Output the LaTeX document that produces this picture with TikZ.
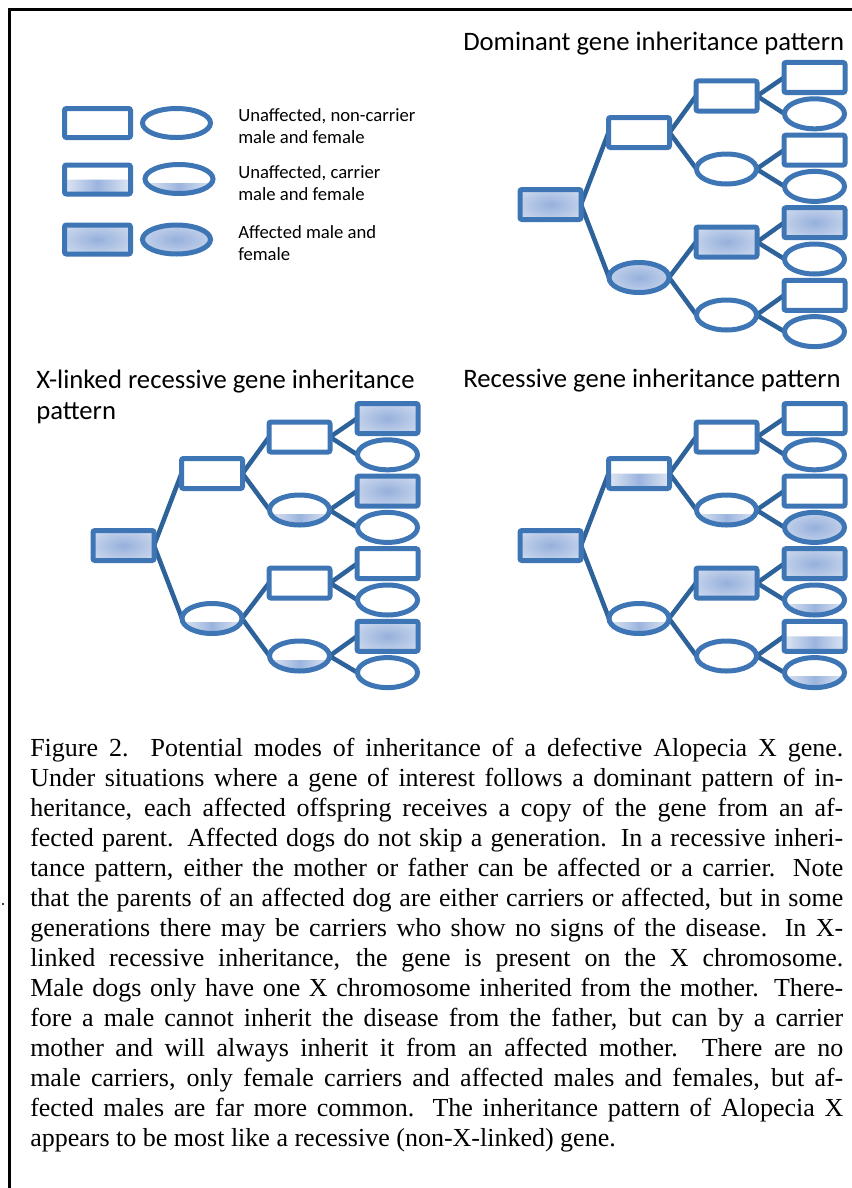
\documentclass[tikz,border=0pt]{standalone}
\usepackage{fontspec}
\usetikzlibrary{shapes.geometric,backgrounds}
\newfontfamily\calfont{Carlito}
\newfontfamily\capfont{Liberation Serif}
\definecolor{nodeblue}{RGB}{62,117,180}
\definecolor{linkblue}{RGB}{46,98,154}
\definecolor{shin}{RGB}{150,176,220}
\definecolor{shout}{RGB}{222,230,243}
\definecolor{bandmid}{RGB}{155,180,222}
\definecolor{bandside}{RGB}{222,230,243}
\pgfdeclareradialshading{affsh}{\pgfpoint{0bp}{0bp}}{color(0bp)=(shin); color(42bp)=(shout); color(75bp)=(shout)}
\tikzset{
 person/.style={draw=nodeblue, line width=3.75pt, inner sep=0pt, outer sep=0pt, fill=white},
 male/.style={person, rectangle, rounded corners=1.5pt, minimum width=45.75pt, minimum height=22.5pt},
 female/.style={person, ellipse, minimum width=45pt, minimum height=22.5pt},
 un/.style={},
 aff/.style={shading=affsh, shade},
 carR/.style={path picture={\shade[left color=bandside, right color=bandside, middle color=bandmid] (path picture bounding box.west) rectangle (path picture bounding box.south east);}},
 carE/.style={path picture={\shade[left color=bandside, right color=bandside, middle color=bandmid] ([yshift=-3pt]path picture bounding box.west) rectangle (path picture bounding box.south east);}},
 conn/.style={draw=linkblue, line width=3.4pt},
 legtext/.style={font=\calfont\fontsize{14pt}{16.5pt}\selectfont, align=left, inner sep=0pt, anchor=west},
 ttl/.style={font=\calfont\fontsize{20pt}{23.3pt}\selectfont, align=left, inner sep=0pt, anchor=west},
}
\newcommand\treeA[8]{%
 \node[male,#2] (#1r) at (550.5,204.5) {};
 \node[male,#3] (#1a) at (639,132.5) {};
 \node[female,#4] (#1b) at (639,277.5) {};
 \node[male,#5] (#1a1) at (726.5,96) {};
 \node[female,#6] (#1a2) at (726.5,169) {};
 \node[male,#7] (#1b1) at (726.5,242) {};
 \node[female,#8] (#1b2) at (726.5,315) {};
}
\newcommand\treeB[9]{%
 \node[male,#2] (#1c1) at (814.5,77.5) {};
 \node[female,#3] (#1c2) at (814.5,113.8) {};
 \node[male,#4] (#1c3) at (814.5,150.1) {};
 \node[female,#5] (#1c4) at (814.5,186.4) {};
 \node[male,#6] (#1c5) at (814.5,222.7) {};
 \node[female,#7] (#1c6) at (814.5,259) {};
 \node[male,#8] (#1c7) at (814.5,295.3) {};
 \node[female,#9] (#1c8) at (814.5,331.6) {};
}
\newcommand\treeLinks[1]{%
 \begin{pgfonlayer}{background}
 \draw[conn] (#1r.east) -- (#1a.west);
 \draw[conn] (#1r.east) -- (#1b.west);
 \draw[conn] (#1a.east) -- (#1a1.west);
 \draw[conn] (#1a.east) -- (#1a2.west);
 \draw[conn] (#1b.east) -- (#1b1.west);
 \draw[conn] (#1b.east) -- (#1b2.west);
 \draw[conn] (#1a1.east) -- (#1c1.west);
 \draw[conn] (#1a1.east) -- (#1c2.west);
 \draw[conn] (#1a2.east) -- (#1c3.west);
 \draw[conn] (#1a2.east) -- (#1c4.west);
 \draw[conn] (#1b1.east) -- (#1c5.west);
 \draw[conn] (#1b1.east) -- (#1c6.west);
 \draw[conn] (#1b2.east) -- (#1c7.west);
 \draw[conn] (#1b2.east) -- (#1c8.west);
 \end{pgfonlayer}
}
\newcommand\capline[1]{\hbox to \linewidth{#1}}
\begin{document}
\begin{tikzpicture}[x=0.75pt, y=-0.75pt]
\useasboundingbox (0,0) rectangle (852,1188);
\begin{pgfonlayer}{background}
\fill[white] (0,0) rectangle (852,1188);
\end{pgfonlayer}
% frame
\draw[line width=2.25pt] (8,10) -- (852,10);
\draw[line width=2.25pt] (9.5,9) -- (9.5,1188);
\fill (3,904) circle (0.9pt);
% legend
\node[male, minimum width=49.5pt, minimum height=21.75pt] (lm1) at (97.5,123) {};
\node[female, minimum width=51pt, minimum height=21.75pt] (lf1) at (176.5,123) {};
\node[male, carR, minimum width=49.5pt, minimum height=21.75pt] (lm2) at (97.5,179.5) {};
\node[female, carE, minimum width=51pt, minimum height=21.75pt] (lf2) at (179,179) {};
\node[male, aff, minimum width=49.5pt, minimum height=21.75pt] (lm3) at (97.5,239.5) {};
\node[female, aff, minimum width=51pt, minimum height=21.75pt] (lf3) at (176.5,239.5) {};
\node[legtext] (t1) at (238,126) {Unaffected, non-carrier\\male and female};
\node[legtext] (t2) at (238,183) {Unaffected, carrier\\male and female};
\node[legtext] (t3) at (238,243.5) {Affected male and\\female};
% titles
\node[ttl] (h1) at (463,44) {Dominant gene inheritance pattern};
\node[ttl] (h2) at (36,396.5) {X-linked recessive gene inheritance\\pattern};
\node[ttl] (h3) at (463,381) {Recessive gene inheritance pattern};
% dominant
\treeA{d}{aff}{un}{aff}{un}{un}{aff}{un}
\treeB{d}{un}{un}{un}{un}{aff}{un}{un}{un}
\treeLinks{d}
% x-linked
\begin{scope}[shift={(-427,341)}]
\treeA{x}{aff}{un}{carE}{un}{carE}{un}{carE}
\treeB{x}{aff}{un}{aff}{un}{un}{un}{aff}{un}
\treeLinks{x}
\end{scope}
% recessive
\begin{scope}[shift={(0,341)}]
\treeA{r}{aff}{carR}{carE}{un}{carE}{aff}{un}
\treeB{r}{un}{un}{un}{aff}{aff}{carE}{carR}{carE}
\treeLinks{r}
\end{scope}
% caption
\node[anchor=base west, inner sep=0pt] (cap) at (30,756) {\begin{minipage}[t]{609.75pt}\capfont\fontsize{19.5pt}{22.5pt}\selectfont
\capline{Figure 2.  Potential modes of inheritance of a defective Alopecia X gene.}
\capline{Under situations where a gene of interest follows a dominant pattern of in-}
\capline{heritance, each affected offspring receives a copy of the gene from an af-}
\capline{fected parent.  Affected dogs do not skip a generation.  In a recessive inheri-}
\capline{tance pattern, either the mother or father can be affected or a carrier.  Note}
\capline{that the parents of an affected dog are either carriers or affected, but in some}
\capline{generations there may be carriers who show no signs of the disease.  In X-}
\capline{linked recessive inheritance, the gene is present on the X chromosome.}
\capline{Male dogs only have one X chromosome inherited from the mother.  There-}
\capline{fore a male cannot inherit the disease from the father, but can by a carrier}
\capline{mother and will always inherit it from an affected mother.  There are no}
\capline{male carriers, only female carriers and affected males and females, but af-}
\capline{fected males are far more common.  The inheritance pattern of Alopecia X}
\hbox{appears to be most like a recessive (non-X-linked) gene.}
\end{minipage}};
\end{tikzpicture}
\end{document}
